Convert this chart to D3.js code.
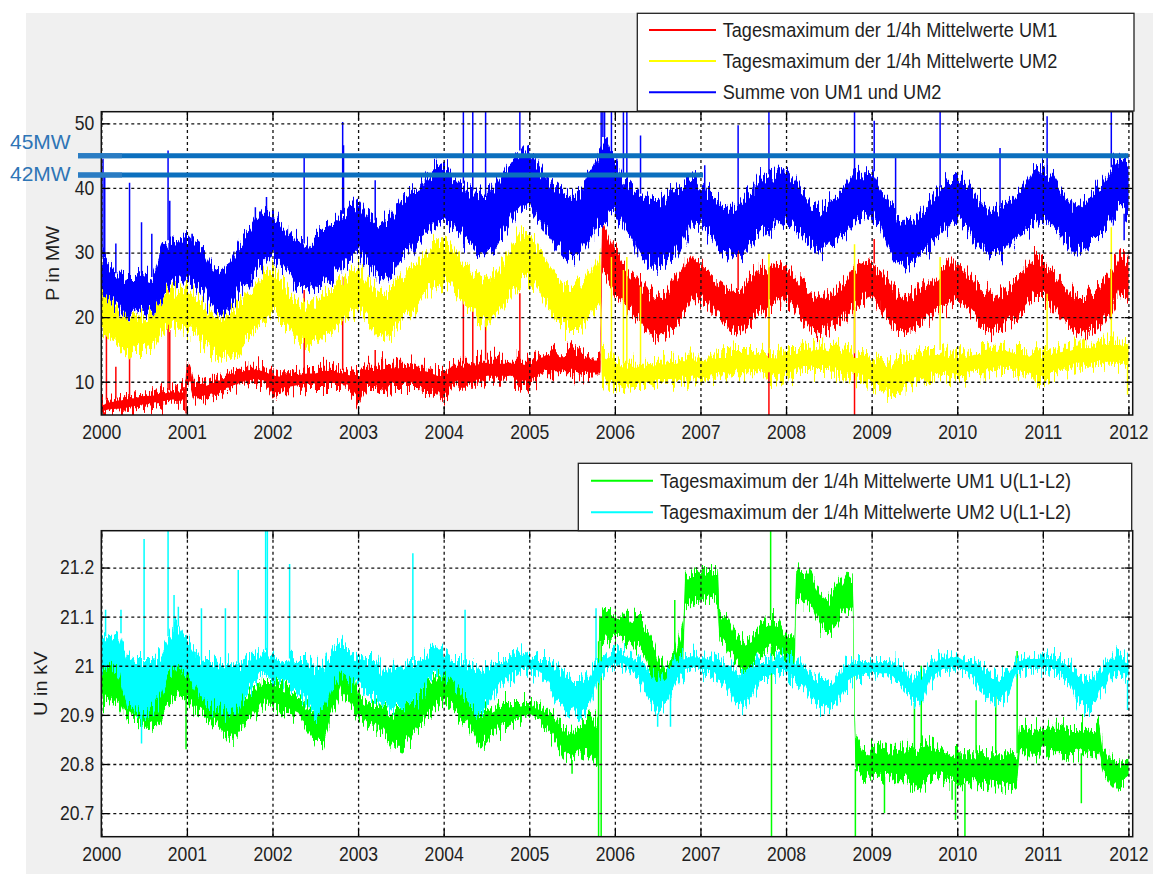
<!DOCTYPE html>
<html><head><meta charset="utf-8">
<script src="https://cdn.jsdelivr.net/npm/d3@7"></script>
<style>
html,body{margin:0;padding:0;background:#fff;}
svg{display:block;}
text{font-family:"Liberation Sans",Arial,Helvetica,sans-serif;}
</style></head><body>
<svg id="fig" width="1153" height="874"></svg>
<script>
// ---------- tick labels ----------
const yearTicks = [2000,2001,2002,2003,2004,2005,2006,2007,2008,2009,2010,2011,2012];
const powerTicks = [10,20,30,40,50];
const voltageTicks = [20.7,20.8,20.9,21,21.1,21.2];

// ---------- power, daily maxima of 1/4h means: [year, low, high] envelope ----------
const um1Band = [
[2000.0,5.1,6.6],[2000.1,5.4,7.2],[2000.2,5.4,7.4],[2000.3,5.6,7.7],[2000.4,5.9,7.9],[2000.5,6.1,8.2],
[2000.6,6.4,8.2],[2000.7,6.6,8.5],[2000.8,6.9,8.7],[2000.9,6.9,8.7],[2000.98,6.9,8.7],[2001.0,10.3,13.4],
[2001.04,9.5,12.3],[2001.08,7.4,9.7],[2001.1,7.2,9.7],[2001.2,7.4,9.7],[2001.3,7.7,10.3],[2001.4,8.2,10.8],
[2001.5,8.7,11.3],[2001.6,9.2,11.8],[2001.7,9.7,12.3],[2001.8,10.0,12.3],[2001.9,9.7,12.1],[2002.0,7.7,11.8],
[2002.1,8.7,11.3],[2002.2,8.7,11.3],[2002.3,9.0,11.5],[2002.4,9.2,11.8],[2002.5,9.2,11.8],[2002.6,9.2,12.3],
[2002.7,9.2,12.3],[2002.8,9.2,11.8],[2002.9,9.0,11.5],[2003.0,6.6,11.3],[2003.1,9.2,12.3],[2003.2,9.2,12.3],
[2003.3,8.7,12.8],[2003.4,9.2,12.8],[2003.5,9.2,12.8],[2003.6,9.2,12.8],[2003.7,9.2,12.3],[2003.8,8.7,12.3],
[2003.9,8.2,11.8],[2004.0,7.0,11.3],[2004.1,9.2,12.8],[2004.2,9.7,12.8],[2004.3,9.7,12.8],[2004.4,9.7,13.4],
[2004.5,10.3,13.4],[2004.6,10.3,13.4],[2004.7,10.3,13.4],[2004.8,10.3,13.4],[2004.9,9.7,13.4],[2005.0,9.2,13.4],
[2005.1,10.8,13.9],[2005.2,11.3,14.9],[2005.3,11.3,14.4],[2005.4,11.3,14.4],[2005.5,11.3,14.9],[2005.6,11.3,14.4],
[2005.7,10.8,13.9],[2005.83,10.8,13.9],[2005.85,27.0,35.0],[2005.9,25.5,33.5],[2006.0,23.7,30.4],[2006.1,22.1,28.3],
[2006.2,20.6,26.8],[2006.3,19.0,25.2],[2006.4,17.5,23.7],[2006.5,17.0,23.1],[2006.6,17.5,23.7],[2006.7,18.5,25.7],
[2006.8,20.6,27.8],[2006.9,22.6,29.8],[2007.0,22.6,28.3],[2007.1,21.6,26.8],[2007.2,20.1,25.7],[2007.3,18.5,24.7],
[2007.4,17.5,24.2],[2007.5,18.0,24.7],[2007.6,19.5,26.2],[2007.7,20.6,27.8],[2007.8,21.6,27.7],[2007.9,22.6,28.3],
[2008.0,22.6,27.7],[2008.1,21.6,26.7],[2008.2,19.5,25.2],[2008.3,18.0,23.6],[2008.4,17.5,23.1],[2008.5,18.0,23.6],
[2008.6,19.0,24.7],[2008.7,20.0,25.7],[2008.8,21.6,27.7],[2008.9,22.6,28.8],[2009.0,23.1,28.3],[2009.1,21.6,26.7],
[2009.2,19.5,25.2],[2009.3,18.0,23.6],[2009.4,17.5,23.1],[2009.5,18.0,23.6],[2009.6,19.0,24.7],[2009.7,20.0,25.7],
[2009.8,21.1,27.2],[2009.9,22.1,28.3],[2010.0,22.6,28.3],[2010.1,21.6,27.2],[2010.2,20.0,25.7],[2010.3,18.5,24.1],
[2010.4,17.5,23.1],[2010.5,18.0,23.6],[2010.6,19.0,24.7],[2010.7,20.0,25.7],[2010.8,21.6,27.7],[2010.9,23.1,29.3],
[2011.0,23.1,28.8],[2011.1,21.6,27.2],[2011.2,20.0,25.7],[2011.3,18.5,24.1],[2011.4,17.5,23.1],[2011.5,17.5,23.1],
[2011.6,18.0,24.1],[2011.7,19.0,25.2],[2011.8,21.1,27.2],[2011.9,23.6,29.8],[2012.0,22.6,28.8]
];
const um2Band = [
[2000.0,17.5,23.7],[2000.1,16.4,22.6],[2000.2,15.4,21.1],[2000.3,14.4,19.5],[2000.4,14.9,20.1],[2000.5,14.9,20.1],
[2000.6,15.4,20.6],[2000.7,17.5,22.6],[2000.8,18.5,24.2],[2000.9,18.5,23.7],[2001.0,18.0,24.2],[2001.1,17.5,23.1],
[2001.2,15.9,22.1],[2001.3,14.4,20.6],[2001.4,13.4,19.5],[2001.5,13.9,20.6],[2001.6,14.9,22.1],[2001.7,16.4,23.7],
[2001.8,18.0,24.7],[2001.9,19.5,26.8],[2002.0,20.6,27.8],[2002.1,19.5,25.7],[2002.2,18.0,23.7],[2002.3,16.4,22.6],
[2002.4,15.4,22.1],[2002.5,15.9,22.6],[2002.6,17.0,23.7],[2002.7,18.0,24.7],[2002.8,19.0,25.7],[2002.9,20.1,26.8],
[2003.0,21.1,27.8],[2003.1,19.5,26.2],[2003.2,17.5,24.7],[2003.3,16.4,23.7],[2003.4,17.5,24.7],[2003.5,19.0,26.2],
[2003.6,20.6,27.8],[2003.7,22.1,28.8],[2003.8,23.7,30.4],[2003.9,24.7,31.9],[2004.0,25.2,31.9],[2004.1,24.2,30.9],
[2004.2,22.6,28.8],[2004.3,21.1,27.8],[2004.4,19.5,26.8],[2004.5,18.5,26.2],[2004.6,20.1,26.8],[2004.7,21.6,28.8],
[2004.8,23.7,31.4],[2004.9,25.2,33.5],[2005.0,25.7,32.9],[2005.1,24.2,30.9],[2005.2,22.1,28.8],[2005.3,20.1,26.8],
[2005.4,18.5,25.2],[2005.5,18.0,24.7],[2005.6,18.5,25.2],[2005.7,20.1,26.8],[2005.83,21.6,29.8],[2005.85,10.0,15.0],
[2005.9,9.7,14.4],[2006.0,9.2,13.4],[2006.1,8.7,12.8],[2006.2,9.2,12.8],[2006.3,9.2,12.8],[2006.4,9.2,12.8],
[2006.5,9.7,13.4],[2006.6,9.7,13.4],[2006.7,9.7,13.4],[2006.8,10.3,13.9],[2006.9,10.3,13.9],[2007.0,9.7,13.9],
[2007.1,10.3,13.9],[2007.2,10.8,14.4],[2007.3,10.8,14.4],[2007.4,11.3,14.9],[2007.5,11.3,14.9],[2007.6,11.3,14.9],
[2007.7,11.3,14.9],[2007.8,10.8,14.4],[2007.9,10.3,14.4],[2008.0,10.8,14.9],[2008.1,11.3,14.9],[2008.2,11.8,15.4],
[2008.3,11.8,15.4],[2008.4,11.8,15.9],[2008.5,11.8,15.4],[2008.6,11.3,15.4],[2008.7,10.8,14.9],[2008.8,10.8,14.4],
[2008.9,10.3,14.4],[2009.0,9.2,13.9],[2009.1,8.7,13.3],[2009.2,8.2,12.8],[2009.3,8.2,13.3],[2009.4,8.7,13.9],
[2009.5,9.7,14.4],[2009.6,10.3,14.9],[2009.7,10.8,14.9],[2009.8,11.3,14.9],[2009.9,10.8,14.4],[2010.0,10.3,14.4],
[2010.1,10.8,14.4],[2010.2,11.3,14.9],[2010.3,11.3,14.9],[2010.4,11.3,15.4],[2010.5,11.8,15.4],[2010.6,11.8,15.4],
[2010.7,11.3,14.9],[2010.8,10.8,14.9],[2010.9,10.3,14.4],[2011.0,10.3,14.4],[2011.1,10.8,14.9],[2011.2,11.3,15.4],
[2011.3,11.8,15.4],[2011.4,12.3,15.9],[2011.5,12.3,15.9],[2011.6,12.3,15.9],[2011.7,12.8,16.4],[2011.8,12.8,16.4],
[2011.9,12.8,16.4],[2012.0,12.3,15.9]
];
const sumBand = [
[2000.0,23.7,29.3],[2000.1,22.6,27.8],[2000.2,21.6,26.8],[2000.3,19.5,26.2],[2000.4,20.6,26.2],[2000.5,21.1,26.8],
[2000.6,20.6,26.2],[2000.7,22.6,29.8],[2000.8,24.7,31.9],[2000.9,25.2,31.4],[2001.0,25.2,32.9],[2001.1,24.7,31.4],
[2001.2,23.7,30.4],[2001.3,21.6,27.8],[2001.4,20.1,26.8],[2001.5,21.1,28.8],[2001.6,23.7,31.4],[2001.7,24.7,32.9],
[2001.8,26.8,35.0],[2001.9,28.3,36.5],[2002.0,29.3,36.0],[2002.1,27.8,34.0],[2002.2,26.8,32.9],[2002.3,24.7,31.9],
[2002.4,24.2,31.4],[2002.5,24.7,32.9],[2002.6,25.7,34.0],[2002.7,26.2,35.0],[2002.8,27.8,36.0],[2002.9,28.8,37.1],
[2003.0,29.8,38.1],[2003.1,28.3,36.0],[2003.2,26.8,35.0],[2003.3,25.7,34.5],[2003.4,26.8,36.0],[2003.5,28.8,38.1],
[2003.6,29.8,39.1],[2003.7,31.9,40.2],[2003.8,32.9,42.2],[2003.9,34.5,43.2],[2004.0,35.0,43.8],[2004.1,34.0,42.2],
[2004.2,32.9,40.7],[2004.3,31.4,39.6],[2004.4,29.8,39.6],[2004.5,29.3,38.6],[2004.6,30.9,40.2],[2004.7,32.9,42.2],
[2004.8,35.0,44.3],[2004.9,36.5,45.8],[2005.0,37.1,45.8],[2005.1,35.0,43.8],[2005.2,32.9,41.7],[2005.3,30.9,40.2],
[2005.4,29.3,39.1],[2005.5,28.8,38.6],[2005.6,29.8,39.6],[2005.7,31.9,42.2],[2005.8,34.0,44.8],[2005.9,35.0,47.9],
[2006.0,36.0,44.8],[2006.1,34.0,41.7],[2006.2,31.9,40.2],[2006.3,29.3,39.1],[2006.4,27.8,38.6],[2006.5,27.8,38.1],
[2006.6,28.3,38.6],[2006.7,29.8,40.2],[2006.8,31.9,41.2],[2006.9,34.0,42.2],[2007.0,34.0,40.7],[2007.1,32.9,39.1],
[2007.2,31.4,38.1],[2007.3,29.8,37.1],[2007.4,29.3,37.1],[2007.5,29.8,38.1],[2007.6,31.4,39.6],[2007.7,33.5,41.7],
[2007.8,32.9,42.1],[2007.9,33.9,43.2],[2008.0,34.9,42.6],[2008.1,33.9,41.1],[2008.2,32.4,39.0],[2008.3,30.8,37.5],
[2008.4,29.8,37.0],[2008.5,30.8,38.0],[2008.6,31.9,39.0],[2008.7,32.9,40.1],[2008.8,34.4,42.1],[2008.9,35.5,42.6],
[2009.0,36.0,42.6],[2009.1,33.9,40.1],[2009.2,30.8,38.0],[2009.3,28.3,36.0],[2009.4,27.7,34.9],[2009.5,28.8,35.4],
[2009.6,29.8,37.0],[2009.7,31.3,38.5],[2009.8,32.9,40.1],[2009.9,33.9,41.1],[2010.0,35.5,41.6],[2010.1,33.9,40.6],
[2010.2,31.9,39.0],[2010.3,30.8,37.5],[2010.4,29.8,36.0],[2010.5,29.3,37.0],[2010.6,30.8,38.0],[2010.7,32.4,39.0],
[2010.8,33.4,40.6],[2010.9,34.4,43.2],[2011.0,35.5,43.2],[2011.1,34.4,42.1],[2011.2,32.9,40.1],[2011.3,31.3,38.0],
[2011.4,29.8,37.0],[2011.5,30.3,38.0],[2011.6,31.9,39.6],[2011.7,32.9,41.1],[2011.8,34.9,43.2],[2011.9,37.0,44.7],
[2012.0,36.0,44.2]
];
// single-day outliers: [year, value]
const um1Spikes = [[2000.06,18.2],[2000.17,12.3],[2000.33,19.0],[2000.78,24.2],[2000.80,18.0],[2000.99,5.1],
[2002.37,24.2],[2002.82,26.2],[2003.2,14.9],[2004.23,22.9],[2004.34,22.6],[2004.49,19.5],[2004.89,23.7],
[2007.44,30.9],[2007.8,4.0],[2008.8,4.0],[2009.03,32.1]];
const um2Spikes = [[2005.96,29.3],[2006.1,27.3],[2006.14,29.3],[2006.3,24.7],[2007.8,29.8],[2008.8,31.3],
[2009.8,29.3],[2011.05,23.6],[2011.8,33.9],[2011.99,8.0]];
const sumSpikes = [[2000.02,44.5],[2000.04,42.0],[2000.17,31.4],[2000.33,40.8],[2000.47,34.7],[2000.59,32.9],
[2000.78,45.8],[2000.80,38.0],[2001.06,32.9],[2001.8,37.0],[2001.93,38.6],[2002.37,44.8],[2002.82,50.2],
[2002.83,46.6],[2003.2,41.2],[2004.23,53],[2004.34,53],[2004.49,53],[2004.89,53],[2005.84,53],[2005.86,53],
[2005.88,53],[2005.96,53],[2006.1,53],[2006.14,53],[2006.3,48.1],[2007.05,43.5],[2007.44,49.7],[2007.8,53],
[2008.8,53],[2009.03,50.4],[2009.28,44.7],[2009.8,53],[2010.5,46.2],[2011.05,51.1],[2011.8,53],[2011.95,31.9]];

// ---------- voltage U(L1-L2), daily maxima: [year, low, high] envelope ----------
const u1Band = [
[2000.0,20.924,21.012],[2000.1,20.93,21.012],[2000.2,20.924,21.005],[2000.3,20.89,20.992],[2000.4,20.89,20.93],
[2000.5,20.876,20.924],[2000.6,20.876,20.93],[2000.7,20.897,20.958],[2000.8,20.924,20.985],[2000.9,20.944,21.005],
[2001.0,20.93,20.992],[2001.1,20.91,20.971],[2001.2,20.897,20.971],[2001.3,20.883,20.958],[2001.4,20.869,20.93],
[2001.5,20.849,20.917],[2001.6,20.863,20.924],[2001.7,20.883,20.937],[2001.8,20.903,20.958],[2001.9,20.924,20.971],
[2002.0,20.917,20.971],[2002.1,20.91,20.958],[2002.2,20.903,20.951],[2002.3,20.897,20.937],[2002.4,20.869,20.917],
[2002.5,20.835,20.903],[2002.6,20.849,20.917],[2002.7,20.903,20.985],[2002.8,20.944,21.026],[2002.9,20.924,20.998],
[2003.0,20.897,20.937],[2003.1,20.883,20.924],[2003.2,20.876,20.917],[2003.3,20.863,20.917],[2003.4,20.835,20.903],
[2003.5,20.835,20.91],[2003.6,20.849,20.924],[2003.7,20.876,20.93],[2003.8,20.903,20.958],[2003.9,20.917,20.971],
[2004.0,20.93,20.992],[2004.1,20.917,20.971],[2004.2,20.897,20.944],[2004.3,20.876,20.924],[2004.4,20.842,20.903],
[2004.5,20.849,20.91],[2004.6,20.869,20.917],[2004.7,20.876,20.924],[2004.8,20.883,20.924],[2004.9,20.89,20.924],
[2005.0,20.897,20.924],[2005.1,20.89,20.917],[2005.2,20.876,20.91],[2005.3,20.849,20.897],[2005.4,20.815,20.876],
[2005.5,20.808,20.863],[2005.6,20.822,20.883],[2005.7,20.815,20.897],[2005.8,20.80,20.88],[2005.82,21.05,21.11],
[2005.9,21.053,21.107],[2006.0,21.06,21.107],[2006.1,21.053,21.1],[2006.2,21.039,21.1],[2006.3,21.039,21.093],
[2006.4,20.998,21.066],[2006.5,20.944,21.012],[2006.6,20.93,20.998],[2006.7,20.971,21.026],[2006.8,21.019,21.08],
[2006.82,21.12,21.19],[2006.9,21.127,21.188],[2007.0,21.134,21.195],[2007.1,21.141,21.195],[2007.2,21.134,21.195],
[2007.22,21.05,21.11],[2007.3,21.039,21.1],[2007.4,21.012,21.066],[2007.5,20.985,21.053],[2007.6,20.998,21.06],
[2007.7,21.026,21.08],[2007.8,21.039,21.093],[2007.9,21.026,21.093],[2008.0,21.012,21.06],[2008.1,21.012,21.06],
[2008.12,21.14,21.2],[2008.2,21.134,21.188],[2008.3,21.12,21.188],[2008.4,21.08,21.148],[2008.5,21.066,21.134],
[2008.6,21.093,21.161],[2008.7,21.12,21.188],[2008.78,21.114,21.175],[2008.81,20.79,20.86],[2008.9,20.774,20.829],
[2009.0,20.774,20.829],[2009.1,20.774,20.836],[2009.2,20.774,20.829],[2009.3,20.767,20.829],[2009.4,20.767,20.836],
[2009.5,20.754,20.829],[2009.6,20.754,20.836],[2009.7,20.767,20.842],[2009.8,20.774,20.836],[2009.9,20.767,20.829],
[2010.0,20.761,20.822],[2010.1,20.761,20.822],[2010.2,20.761,20.822],[2010.3,20.761,20.822],[2010.4,20.754,20.822],
[2010.5,20.754,20.822],[2010.6,20.747,20.822],[2010.7,20.761,20.822],[2010.73,20.822,20.876],[2010.8,20.822,20.876],
[2010.9,20.808,20.869],[2011.0,20.829,20.876],[2011.1,20.822,20.876],[2011.2,20.822,20.876],[2011.3,20.815,20.869],
[2011.4,20.822,20.869],[2011.5,20.822,20.876],[2011.6,20.815,20.869],[2011.66,20.829,20.883],[2011.7,20.781,20.836],
[2011.8,20.754,20.808],[2011.9,20.754,20.801],[2012.0,20.767,20.815]
];
const u2Band = [
[2000.0,20.985,21.06],[2000.1,21.0,21.06],[2000.2,20.985,21.066],[2000.3,20.917,21.019],[2000.4,20.903,21.012],
[2000.5,20.897,21.012],[2000.6,20.917,21.012],[2000.7,20.944,21.026],[2000.8,20.985,21.06],[2000.9,21.0,21.08],
[2001.0,20.985,21.053],[2001.1,20.958,21.026],[2001.2,20.93,21.012],[2001.3,20.917,21.012],[2001.4,20.91,21.005],
[2001.5,20.903,21.005],[2001.6,20.91,21.005],[2001.7,20.944,21.012],[2001.8,20.971,21.019],[2001.9,20.985,21.032],
[2002.0,20.971,21.019],[2002.1,20.964,21.015],[2002.2,20.958,21.015],[2002.3,20.944,21.012],[2002.4,20.924,21.012],
[2002.5,20.903,20.998],[2002.6,20.91,20.998],[2002.7,20.958,21.032],[2002.8,20.985,21.046],[2002.9,20.971,21.026],
[2003.0,20.958,21.019],[2003.1,20.944,21.012],[2003.2,20.93,21.012],[2003.3,20.917,20.985],[2003.4,20.917,20.998],
[2003.5,20.91,20.998],[2003.6,20.924,21.012],[2003.7,20.93,21.012],[2003.8,20.958,21.026],[2003.9,20.985,21.032],
[2004.0,20.985,21.026],[2004.1,20.964,21.012],[2004.2,20.944,21.012],[2004.3,20.924,21.005],[2004.4,20.903,20.992],
[2004.5,20.917,20.998],[2004.6,20.944,21.012],[2004.7,20.964,21.012],[2004.8,20.978,21.019],[2004.9,20.992,21.026],
[2005.0,20.992,21.019],[2005.1,20.985,21.012],[2005.2,20.971,21.012],[2005.3,20.93,21.005],[2005.4,20.917,20.985],
[2005.5,20.903,20.971],[2005.6,20.903,20.971],[2005.7,20.917,20.985],[2005.8,20.971,21.012],[2005.9,20.992,21.019],
[2006.0,21.0,21.032],[2006.1,21.0,21.026],[2006.2,20.985,21.019],[2006.3,20.971,21.012],[2006.4,20.93,20.992],
[2006.5,20.903,20.971],[2006.6,20.924,20.985],[2006.7,20.958,21.012],[2006.8,20.985,21.019],[2006.9,20.992,21.026],
[2007.0,20.992,21.019],[2007.1,20.985,21.019],[2007.2,20.978,21.012],[2007.3,20.958,21.005],[2007.4,20.924,20.992],
[2007.5,20.917,20.985],[2007.6,20.937,20.998],[2007.7,20.971,21.012],[2007.8,20.971,21.012],[2007.9,20.992,21.019],
[2008.0,20.985,21.012],[2008.1,20.971,21.012],[2008.2,20.958,21.005],[2008.3,20.93,20.985],[2008.4,20.917,20.971],
[2008.5,20.91,20.964],[2008.6,20.924,20.985],[2008.7,20.958,21.005],[2008.8,20.971,21.012],[2008.9,20.978,21.012],
[2009.0,20.985,21.012],[2009.1,20.978,21.012],[2009.2,20.978,21.012],[2009.3,20.964,21.005],[2009.4,20.944,20.992],
[2009.5,20.924,20.971],[2009.6,20.93,20.985],[2009.7,20.971,21.012],[2009.8,20.985,21.019],[2009.9,20.992,21.019],
[2010.0,20.992,21.026],[2010.1,20.985,21.012],[2010.2,20.971,21.012],[2010.3,20.944,20.998],[2010.4,20.93,20.985],
[2010.5,20.924,20.978],[2010.6,20.944,20.992],[2010.7,20.985,21.012],[2010.8,20.992,21.019],[2010.9,20.992,21.019],
[2011.0,20.992,21.019],[2011.1,20.992,21.019],[2011.2,20.985,21.012],[2011.3,20.971,21.005],[2011.4,20.93,20.985],
[2011.5,20.917,20.971],[2011.6,20.924,20.978],[2011.7,20.951,20.998],[2011.8,20.985,21.019],[2011.9,20.985,21.019],
[2012.0,20.971,21.012]
];
const u1Spikes = [[2000.99,20.83],[2005.5,20.78],[2005.81,20.6],[2005.84,20.6],[2006.7,21.134],[2007.82,21.3],
[2007.83,20.6],[2008.81,20.6],[2009.15,20.70],[2009.5,20.924],[2009.58,21.0],[2009.94,20.727],[2009.98,20.686],
[2010.09,20.6],[2010.22,20.93],[2010.45,20.958],[2010.7,21.03],[2011.45,20.72],[2011.62,20.84]];
const u2Spikes = [[2000.05,21.114],[2000.23,21.114],[2000.47,20.842],[2000.5,21.258],[2000.78,21.3],[2000.85,21.144],
[2000.9,21.12],[2001.17,21.117],[2001.45,21.117],[2001.6,21.195],[2001.92,21.3],[2001.94,21.3],[2002.2,21.207],
[2003.64,21.229],[2004.25,21.114],[2005.78,21.117],[2006.5,20.876],[2006.65,20.876],[2011.99,20.91]];

// ---------- legend and label texts ----------
const powerLegend = ["Tagesmaximum der 1/4h Mittelwerte UM1","Tagesmaximum der 1/4h Mittelwerte UM2","Summe von UM1 und UM2"];
const voltageLegend = ["Tagesmaximum der 1/4h Mittelwerte UM1 U(L1-L2)","Tagesmaximum der 1/4h Mittelwerte UM2 U(L1-L2)"];
// capacity marks on the power panel: value in MW and the year the mark runs to
const capacityMarks = [{label:"45MW", value:45, until:2012}, {label:"42MW", value:42, until:2007.03}];

// ---------- drawing ----------
const FONT = '"Liberation Sans", Arial, Helvetica, sans-serif';
const INK = "#1f1f1f";
const svg = d3.select("#fig");
const defs = svg.append("defs");
svg.append("rect").attr("x",26).attr("y",13).attr("width",1127).attr("height",861).attr("fill","#f0f0f0");

// vertical jitter texture for the dense daily bands
const jit = defs.append("filter").attr("id","jitter").attr("filterUnits","userSpaceOnUse")
  .attr("x",0).attr("y",0).attr("width",1153).attr("height",874).attr("color-interpolation-filters","sRGB");
jit.append("feTurbulence").attr("type","fractalNoise").attr("baseFrequency","0.55 0.03")
  .attr("numOctaves",2).attr("seed",11).attr("result","noise");
jit.append("feColorMatrix").attr("in","noise").attr("type","matrix")
  .attr("values","0 0 0 0 0.5  0 1 0 0 0  0 0 0 0 0  0 0 0 0 1").attr("result","map");
jit.append("feDisplacementMap").attr("in","SourceGraphic").attr("in2","map").attr("scale",38)
  .attr("xChannelSelector","R").attr("yChannelSelector","G");

const xDomain = [2000, 2012.05];

function styleText(sel){
  sel.attr("font-family",FONT).attr("font-size",20).attr("fill",INK).attr("transform","scale(0.88,1)");
}

function drawPanel(p){
  const x = d3.scaleLinear().domain(xDomain).range([p.left,p.right]);
  const y = d3.scaleLinear().domain(p.yDomain).range([p.bottom,p.top]);
  const w = p.right-p.left, h = p.bottom-p.top;
  svg.append("rect").attr("x",p.left).attr("y",p.top).attr("width",w).attr("height",h).attr("fill","#fff");
  defs.append("clipPath").attr("id",p.id+"Clip").append("rect")
    .attr("x",p.left).attr("y",p.top).attr("width",w).attr("height",h);
  const plot = svg.append("g").attr("clip-path",`url(#${p.id}Clip)`);
  const area = d3.area().x(d=>x(d[0])).y0(d=>y(d[1])).y1(d=>y(d[2]));
  // solid core of each band (inner 60 % of the envelope)
  const core = d3.area().x(d=>x(d[0]))
    .y0(d=>y(d[1]+(d[2]-d[1])*0.2)).y1(d=>y(d[2]-(d[2]-d[1])*0.2));
  const bis = d3.bisector(d=>d[0]);
  p.series.forEach(s=>{
    const g = plot.append("g");
    g.append("path").datum(s.band).attr("d",core).attr("fill",s.color);
    g.append("path").datum(s.band).attr("d",area).attr("fill",s.color).attr("filter","url(#jitter)");
    g.selectAll("line").data(s.spikes).join("line")
      .attr("x1",d=>x(d[0])).attr("x2",d=>x(d[0]))
      .attr("y1",d=>{const b=s.band[bis.center(s.band,d[0])];return y(d[1]>=b[2]?b[2]:d[1]<=b[1]?b[1]:(b[1]+b[2])/2);})
      .attr("y2",d=>y(d[1]))
      .attr("stroke",s.color).attr("stroke-width",1.5);
  });
  // dashed grid, drawn over the data
  const gx = svg.append("g").attr("transform",`translate(0,${p.bottom})`)
    .call(d3.axisBottom(x).tickValues(yearTicks).tickSize(-h).tickFormat(""));
  gx.select(".domain").remove();
  gx.selectAll(".tick line").attr("stroke","#111").attr("stroke-dasharray","3,3").attr("stroke-width",1.3);
  const gy = svg.append("g").attr("transform",`translate(${p.left},0)`)
    .call(d3.axisLeft(y).tickValues(p.yTicks).tickSize(-w).tickFormat(""));
  gy.select(".domain").remove();
  gy.selectAll(".tick line").attr("stroke","#111").attr("stroke-dasharray","3,3").attr("stroke-width",1.3);
  // axes with inward ticks on all four sides
  const ab = svg.append("g").attr("transform",`translate(0,${p.bottom})`)
    .call(d3.axisBottom(x).tickValues(yearTicks).tickSize(-8).tickSizeOuter(0).tickPadding(10).tickFormat(d3.format("d")));
  const at = svg.append("g").attr("transform",`translate(0,${p.top})`)
    .call(d3.axisTop(x).tickValues(yearTicks).tickSize(-8).tickSizeOuter(0).tickFormat(""));
  const al = svg.append("g").attr("transform",`translate(${p.left},0)`)
    .call(d3.axisLeft(y).tickValues(p.yTicks).tickSize(-8).tickSizeOuter(0).tickPadding(8).tickFormat(p.fmt));
  const ar = svg.append("g").attr("transform",`translate(${p.right},0)`)
    .call(d3.axisRight(y).tickValues(p.yTicks).tickSize(-8).tickSizeOuter(0).tickFormat(""));
  [ab,at,al,ar].forEach(a=>{
    a.selectAll(".domain").remove();
    a.selectAll(".tick line").attr("stroke","#000").attr("stroke-width",1.3);
    a.selectAll(".tick text").call(styleText);
  });
  svg.append("rect").attr("x",p.left).attr("y",p.top).attr("width",w).attr("height",h)
    .attr("fill","none").attr("stroke","#111").attr("stroke-width",1.5);
  // axis title
  svg.append("text").text(p.title)
    .attr("transform",`translate(${p.titleX},${(p.top+p.bottom)/2}) scale(0.88,1) rotate(-90)`)
    .attr("text-anchor","middle").attr("font-family",FONT).attr("font-size",20).attr("fill",INK);
  return {x,y};
}

function drawLegend(L){
  svg.append("rect").attr("x",L.x).attr("y",L.y).attr("width",L.w).attr("height",L.h)
    .attr("fill","#fff").attr("stroke","#222").attr("stroke-width",1.3);
  L.items.forEach((t,i)=>{
    const cy = L.rows[i];
    svg.append("line").attr("x1",L.lineX1).attr("x2",L.lineX2).attr("y1",cy).attr("y2",cy)
      .attr("stroke",L.colors[i]).attr("stroke-width",2);
    svg.append("text").text(t).attr("transform",`translate(${L.textX},${cy+7}) scale(0.885,1)`)
      .attr("font-family",FONT).attr("font-size",20.5).attr("fill",INK);
  });
}

const powerPanel = drawPanel({
  id:"power", left:101.3, right:1132.7, top:111.7, bottom:415,
  yDomain:[4.85,51.8], yTicks:powerTicks, fmt:d3.format("d"),
  title:"P in MW", titleX:59,
  series:[
    {band:um1Band, spikes:um1Spikes, color:"#ff0000"},
    {band:um2Band, spikes:um2Spikes, color:"#ffff00"},
    {band:sumBand, spikes:sumSpikes, color:"#0000ff"}
  ]
});
drawPanel({
  id:"voltage", left:101.3, right:1132.7, top:530.7, bottom:836.7,
  yDomain:[20.652,21.275], yTicks:voltageTicks, fmt:d=>d3.format(".1f")(d).replace(/\.0$/,""),
  title:"U in kV", titleX:46.5,
  series:[
    {band:u1Band, spikes:u1Spikes, color:"#00ff00"},
    {band:u2Band, spikes:u2Spikes, color:"#00ffff"}
  ]
});

drawLegend({x:637.3,y:13.3,w:496.7,h:97.7,rows:[30,61,92.3],lineX1:649,lineX2:716,textX:722.7,
  items:powerLegend,colors:["#ff0000","#ffff00","#0000ff"]});
drawLegend({x:578.3,y:463.3,w:553.4,h:67.4,rows:[480.7,512.3],lineX1:591,lineX2:653,textX:660,
  items:voltageLegend,colors:["#00ff00","#00ffff"]});

// capacity marks: heavy blue rules with labels at the left margin
const labelBaselineShift = [-6.6, 6.4];
capacityMarks.forEach((m,i)=>{
  const yy = powerPanel.y(m.value);
  svg.append("line").attr("x1",78).attr("x2",powerPanel.x(m.until)).attr("y1",yy).attr("y2",yy)
    .attr("stroke","#0b6fbe").attr("stroke-width",5);
  svg.append("line").attr("x1",78).attr("x2",122).attr("y1",yy).attr("y2",yy)
    .attr("stroke","#2a7cc3").attr("stroke-width",5);
  svg.append("text").text(m.label).attr("x",10).attr("y",yy+labelBaselineShift[i])
    .attr("font-family",FONT).attr("font-size",21).attr("fill","#2e75b6");
});
</script></body></html>
